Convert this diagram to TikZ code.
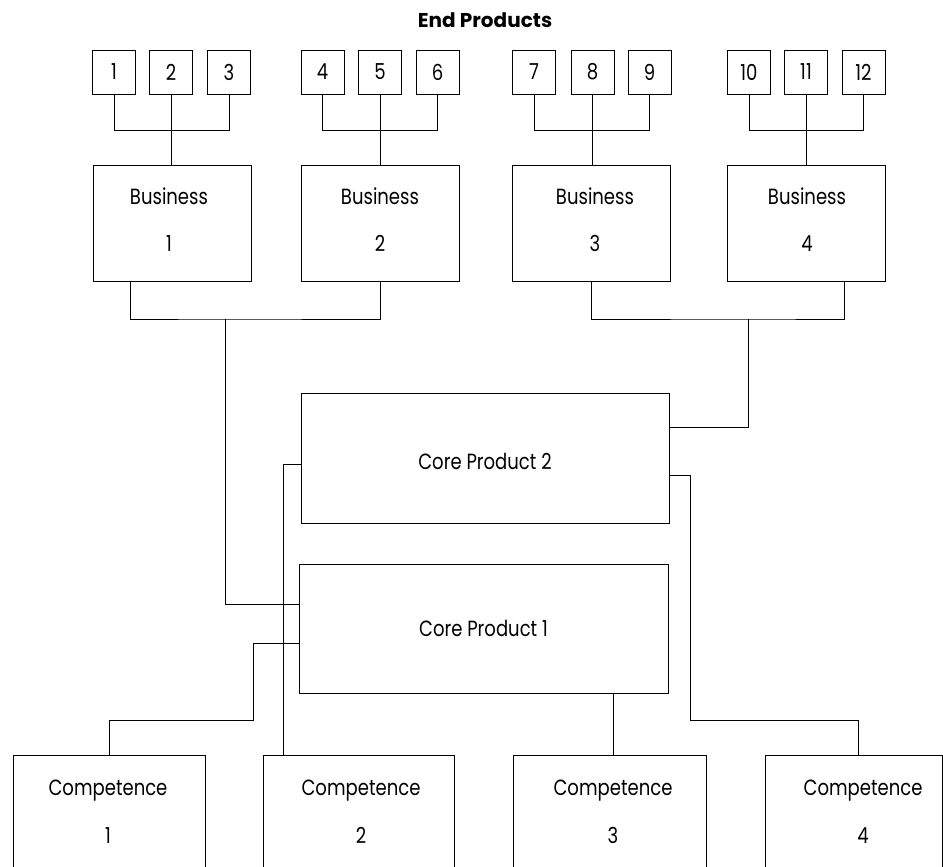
\documentclass[tikz,border=0pt]{standalone}
\usepackage{fontspec}
\setmainfont{Poppins}[FakeStretch=0.82]
\newfontfamily\titlefont{Poppins}
\begin{document}
\begin{tikzpicture}[x=1pt,y=-1pt,
  box/.style={draw, line width=0.9pt, rectangle, inner sep=0pt},
  small/.style={box, minimum width=43, minimum height=44, font=\fontsize{22}{26}\selectfont},
  bus/.style={box, minimum width=158, minimum height=116},
  comp/.style={box, minimum width=192, minimum height=150},
  core/.style={box, font=\fontsize{22}{26}\selectfont, text depth=0pt},
  txt/.style={inner sep=0pt, anchor=base, font=\fontsize{22}{26}\selectfont},
  wire/.style={draw, line width=0.9pt}]
\useasboundingbox (0,0) rectangle (943,867);
\clip (0,0) rectangle (943,867);
\fill[white] (0,0) rectangle (943,867);

% title
\node[inner sep=0pt, font=\titlefont\bfseries\fontsize{20}{24}\selectfont] (title) at (485,20) {End Products};

% end products
\foreach \i/\x in {1/114,2/171,3/229,4/322.5,5/380,6/437.5,7/534,8/592.5,9/649.5,10/749,11/806,12/863.5}
  \node[small] (p\i) at (\x,72) {\i};

% business boxes
\node[bus] (B1) at (172,223.7) {};
\node[bus] (B2) at (380.5,223.7) {};
\node[bus] (B3) at (591,223.7) {};
\node[bus] (B4) at (806,223.7) {};
\node[txt] (B1a) at (169,204) {Business};
\node[txt] (B1b) at (169,251) {1};
\node[txt] (B2a) at (380,204) {Business};
\node[txt] (B2b) at (380,251) {2};
\node[txt] (B3a) at (595,204) {Business};
\node[txt] (B3b) at (595,251) {3};
\node[txt] (B4a) at (807,204) {Business};
\node[txt] (B4b) at (807,251) {4};

% core products
\node[core, minimum width=368, minimum height=130, text height=22pt] (CP2) at (485,458) {Core Product 2};
\node[core, minimum width=369, minimum height=129, text height=16pt] (CP1) at (483.5,628.5) {Core Product 1};

% competence boxes
\node[comp] (C1) at (109,830) {};
\node[comp, minimum width=191] (C2) at (358.5,830) {};
\node[comp, minimum width=193] (C3) at (609.5,830) {};
\node[comp, minimum width=177] (C4) at (853.5,830) {};
\node[txt] (C1a) at (108,795) {Competence};
\node[txt] (C1b) at (108,843) {1};
\node[txt] (C2a) at (361,795) {Competence};
\node[txt] (C2b) at (361,843) {2};
\node[txt] (C3a) at (613,795) {Competence};
\node[txt] (C3b) at (613,843) {3};
\node[txt] (C4a) at (863,795) {Competence};
\node[txt] (C4b) at (863,843) {4};

% end product brackets
\coordinate (k1) at (172,130.7);
\coordinate (k2) at (380,130.7);
\coordinate (k3) at (592,130.7);
\coordinate (k4) at (806,130.7);
\draw[wire] (p1.south) |- (k1) -| (p3.south);
\draw[wire] (p2.south) -- (p2.south |- B1.north);
\draw[wire] (p4.south) |- (k2) -| (p6.south);
\draw[wire] (p5.south) -- (p5.south |- B2.north);
\draw[wire] (p7.south) |- (k3) -| (p9.south);
\draw[wire] (p8.south) -- (p8.south |- B3.north);
\draw[wire] (p10.south) |- (k4) -| (p12.south);
\draw[wire] (p11.south) -- (p11.south |- B4.north);

% business to core products
\coordinate (jL) at (225,319);
\coordinate (jR) at (748,319);
\draw[wire] (130,0 |- B1.south) |- (jL) -| (B2.south);
\draw[wire] (jL) |- (CP1.west |- 0,604);
\draw[wire] (B3.south) |- (jR) -| (844,0 |- B4.south);
\draw[wire] (jR) |- (CP2.east |- 0,427);

% core products to competences
\draw[wire] (CP2.west |- 0,464) -| (283,0 |- C2.north);
\draw[wire] (CP1.west |- 0,643) -| (253,720) -| (C1.north);
\draw[wire] (613,0 |- CP1.south) -- (613,0 |- C3.north);
\draw[wire] (CP2.east |- 0,475) -| (690,720) -| (858,0 |- C4.north);
\end{tikzpicture}
\end{document}
